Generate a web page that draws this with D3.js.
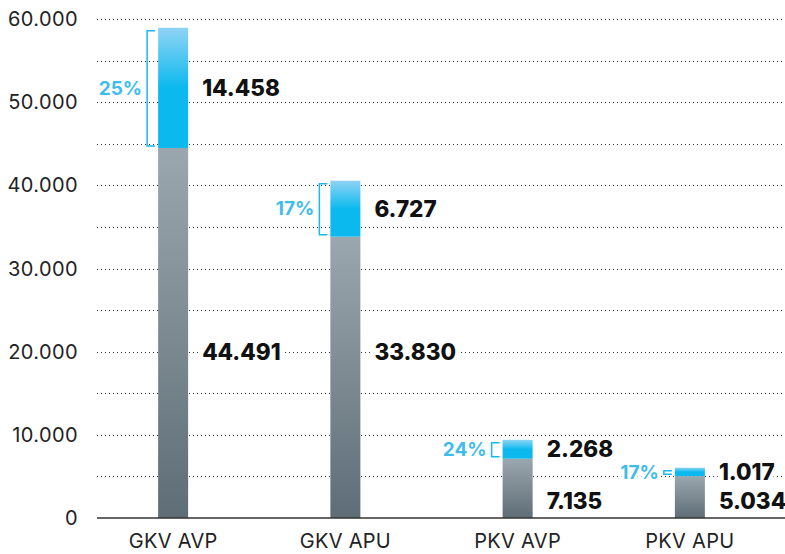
<!DOCTYPE html>
<html>
<head>
<meta charset="utf-8">
<script src="https://cdn.jsdelivr.net/npm/d3@7"></script>
<style>
  body { margin: 0; background: #fff; }
  text { font-family: Inter, "Noto Sans", sans-serif; }
</style>
</head>
<body>
<div id="canvas"></div>
<script>
"use strict"

/* Data */
let categories = ["GKV AVP", "GKV APU", "PKV AVP", "PKV APU"];
let baseValues = [44491, 33830, 7135, 5034];
let topValues = [14458, 6727, 2268, 1017];
let shareLabels = ["25%", "17%", "24%", "17%"];
let tickValues = [0, 10000, 20000, 30000, 40000, 50000, 60000];

/* Drawing dimensions */
let svgWidth = 785;
let svgHeight = 554;
let barWidth = 30;

let svg = d3.select("#canvas")
    .append("svg")
    .attr("width", svgWidth)
    .attr("height", svgHeight);

let defs = svg.append("defs");

// blue gradient for the top segment
let blueGrad = defs.append("linearGradient")
    .attr("id", "blueGrad")
    .attr("x1", 0).attr("y1", 0).attr("x2", 0).attr("y2", 1);
blueGrad.append("stop").attr("offset", "0%").attr("stop-color", "#8fd4f5");
blueGrad.append("stop").attr("offset", "50%").attr("stop-color", "#0cb9ee");
blueGrad.append("stop").attr("offset", "100%").attr("stop-color", "#0cb9ee");

// grey gradient for the base segment
let greyGrad = defs.append("linearGradient")
    .attr("id", "greyGrad")
    .attr("x1", 0).attr("y1", 0).attr("x2", 0).attr("y2", 1);
greyGrad.append("stop").attr("offset", "0%").attr("stop-color", "#9ba7ae");
greyGrad.append("stop").attr("offset", "100%").attr("stop-color", "#5e6d76");

let data = categories.map(function (c, i) {
    return { cat: c, base: baseValues[i], top: topValues[i], share: shareLabels[i] };
});

/* Scales */
let xScale = d3.scalePoint()
    .domain(categories)
    .range([87, 776])
    .padding(0.5);

let yScale = d3.scaleLinear()
    .domain([0, 60000])
    .range([518, 19]);

let fmt = d3.formatLocale({ decimal: ",", thousands: ".", grouping: [3], currency: ["", "€"] }).format(",");

/* Dotted grid lines every 5.000 */
let gridValues = d3.range(5000, 60001, 5000);
svg.append("g")
    .selectAll("line")
    .data(gridValues)
    .join("line")
    .attr("x1", 97)
    .attr("x2", svgWidth)
    .attr("y1", d => Math.round(yScale(d)) + 0.5)
    .attr("y2", d => Math.round(yScale(d)) + 0.5)
    .attr("stroke", "#333")
    .attr("stroke-width", 1)
    .attr("stroke-dasharray", "1,3");

/* Y tick labels */
svg.append("g")
    .selectAll("text")
    .data(tickValues)
    .join("text")
    .attr("x", 78)
    .attr("y", d => yScale(d))
    .attr("dy", "0.35em")
    .attr("text-anchor", "end")
    .style("font-size", "20px")
    .style("letter-spacing", "0.4px")
    .attr("fill", "#222")
    .text(d => fmt(d));

/* Bars */
let bars = svg.append("g")
    .selectAll("g")
    .data(data)
    .join("g");

bars.append("rect")
    .attr("x", d => xScale(d.cat) - barWidth / 2)
    .attr("y", d => yScale(d.base))
    .attr("width", barWidth)
    .attr("height", d => yScale(0) - yScale(d.base))
    .attr("fill", "url(#greyGrad)");

bars.append("rect")
    .attr("x", d => xScale(d.cat) - barWidth / 2)
    .attr("y", d => yScale(d.base + d.top))
    .attr("width", barWidth)
    .attr("height", d => yScale(d.base) - yScale(d.base + d.top))
    .attr("fill", "url(#blueGrad)");

/* Baseline */
svg.append("line")
    .attr("x1", 97)
    .attr("x2", svgWidth)
    .attr("y1", yScale(0))
    .attr("y2", yScale(0))
    .attr("stroke", "#333")
    .attr("stroke-width", 1.5);

/* Brackets around the top segment */
bars.append("path")
    .attr("fill", "none")
    .attr("stroke", "#1ab8ec")
    .attr("stroke-width", 1.5)
    .attr("d", function (d) {
        let left = xScale(d.cat) - barWidth / 2;
        let y0 = yScale(d.base + d.top) + 3;
        let y1 = yScale(d.base) - 2;
        let xa = left - 3, xb = left - 11;
        return "M" + xa + "," + y0 + "H" + xb + "V" + y1 + "H" + xa;
    });

/* Share labels */
bars.append("text")
    .attr("x", d => xScale(d.cat) - barWidth / 2 - 16)
    .attr("y", d => (yScale(d.base + d.top) + yScale(d.base)) / 2)
    .attr("dy", "0.35em")
    .attr("text-anchor", "end")
    .style("font-size", "19px")
    .style("font-weight", "700")
    .attr("fill", "#3fbcee")
    .attr("stroke", "#fff")
    .attr("stroke-width", 6)
    .attr("paint-order", "stroke")
    .text(d => d.share);

/* Value labels for top segments */
bars.append("text")
    .attr("x", d => xScale(d.cat) + barWidth / 2 + 14)
    .attr("y", d => (yScale(d.base + d.top) + yScale(d.base)) / 2)
    .attr("dy", "0.35em")
    .style("font-size", "22.5px")
    .style("font-weight", "800")
    .attr("fill", "#111")
    .attr("stroke", "#fff")
    .attr("stroke-width", 8)
    .attr("paint-order", "stroke")
    .text(d => fmt(d.top));

/* Value labels for base segments */
bars.append("text")
    .attr("x", d => xScale(d.cat) + barWidth / 2 + 14)
    .attr("y", d => d.base > 20000 ? yScale(20000) : yScale(0) - 17)
    .attr("dy", "0.35em")
    .style("font-size", "22.5px")
    .style("font-weight", "800")
    .attr("fill", "#111")
    .attr("stroke", "#fff")
    .attr("stroke-width", 8)
    .attr("paint-order", "stroke")
    .text(d => fmt(d.base));

/* Category labels */
svg.append("g")
    .selectAll("text")
    .data(categories)
    .join("text")
    .attr("x", d => xScale(d))
    .attr("y", 541)
    .attr("dy", "0.35em")
    .attr("text-anchor", "middle")
    .style("font-size", "20px")
    .style("letter-spacing", "0.3px")
    .attr("fill", "#222")
    .text(d => d);
</script>
</body>
</html>
